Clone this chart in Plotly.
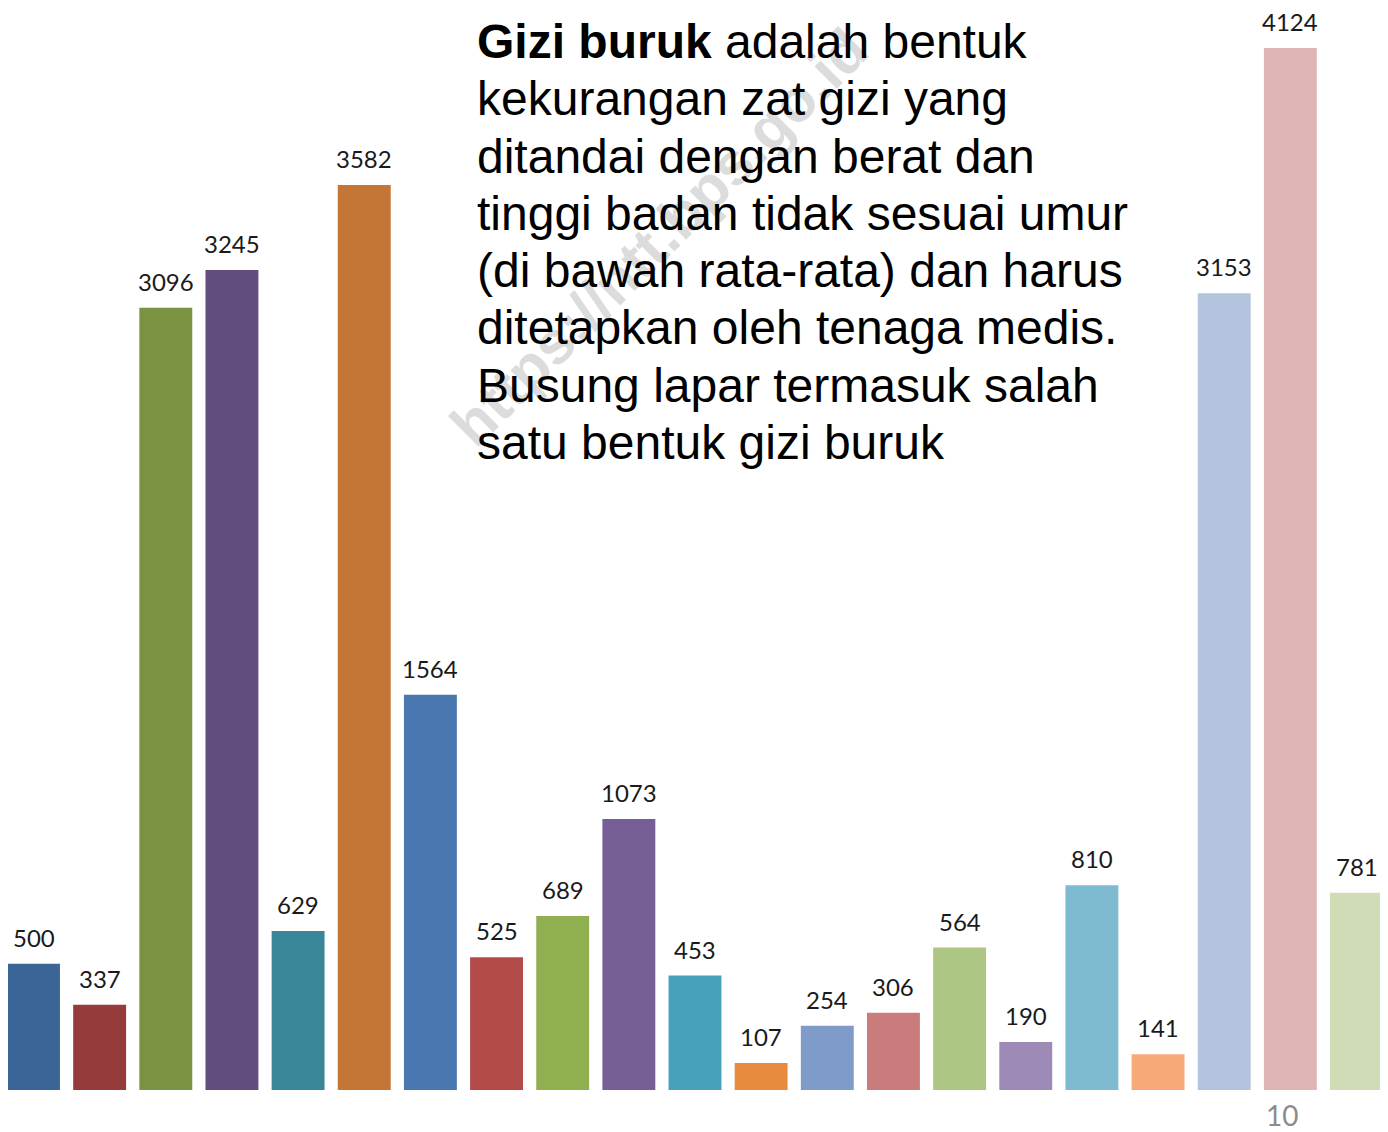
import plotly.graph_objects as go

# nilai per batang (kiri ke kanan)
values = [500, 337, 3096, 3245, 629, 3582, 1564, 525, 689, 1073, 453,
          107, 254, 306, 564, 190, 810, 141, 3153, 4124, 781]
colors = ["#3C6597", "#963B3B", "#7A9343", "#624E7D", "#3A8799", "#C37635",
          "#4978B1", "#B34B48", "#90AF51", "#765E97", "#48A1BA", "#E78B40",
          "#7F9BCA", "#C97C7B", "#ADC683", "#9E8AB6", "#7EBAD0", "#F7A978",
          "#B5C4DE", "#DFB5B5", "#CFDCB6"]
cats = list(range(len(values)))

text_lines = [
    "<b>Gizi buruk</b> adalah bentuk",
    "kekurangan zat gizi yang",
    "ditandai dengan berat dan",
    "tinggi badan tidak sesuai umur",
    "(di bawah rata-rata) dan harus",
    "ditetapkan oleh tenaga medis.",
    "Busung lapar termasuk salah",
    "satu bentuk gizi buruk",
]
watermark = "https://ntt.bps.go.id"
page_no = "10"

# halaman punya margin body 8px, jadi figur dibuat sedikit lebih kecil
W, H = 1380, 1124
plot_h = 1082
slot = 66.15


def py(p):
    return 1 - p / plot_h


fig = go.Figure()
fig.add_trace(go.Bar(x=cats, y=values, marker_color=colors,
                     marker_line_width=0, hoverinfo="skip"))

annotations = []
# watermark di belakang teks
annotations.append(dict(text=watermark, xref="paper", yref="paper",
                        x=651 / W, y=py(229), xanchor="center",
                        yanchor="middle", showarrow=False, textangle=-45,
                        font=dict(family="Liberation Sans", size=60,
                                  color="#dcdcdc", weight="bold")))

for i, line in enumerate(text_lines):
    annotations.append(dict(text=line, xref="paper", yref="paper",
                            x=467 / W, y=py(33.5 + 57.3 * i),
                            xanchor="left", yanchor="middle", showarrow=False,
                            font=dict(family="Liberation Sans", size=48,
                                      color="#000000")))

for c, v in zip(cats, values):
    annotations.append(dict(text=str(v), x=c, y=v, xref="x", yref="y",
                            xanchor="center", yanchor="bottom", yshift=10,
                            showarrow=False,
                            font=dict(family="Lato", size=24, color="#1a1a1a")))

annotations.append(dict(text=page_no, xref="paper", yref="paper",
                        x=1274 / W, y=py(1107), xanchor="center",
                        yanchor="middle", showarrow=False,
                        font=dict(family="Lato", size=28, color="#8c8c8c")))

x0 = -25.5 / slot
fig.update_layout(
    width=W, height=H,
    margin=dict(l=0, r=0, t=0, b=H - plot_h, pad=0),
    paper_bgcolor="white", plot_bgcolor="white",
    bargap=0.2, showlegend=False,
    xaxis=dict(range=[x0, x0 + W / slot], visible=False, fixedrange=True),
    yaxis=dict(range=[0, plot_h / (1042 / 4124)], visible=False,
               fixedrange=True),
    annotations=annotations,
)

fig.write_html("out.html")
